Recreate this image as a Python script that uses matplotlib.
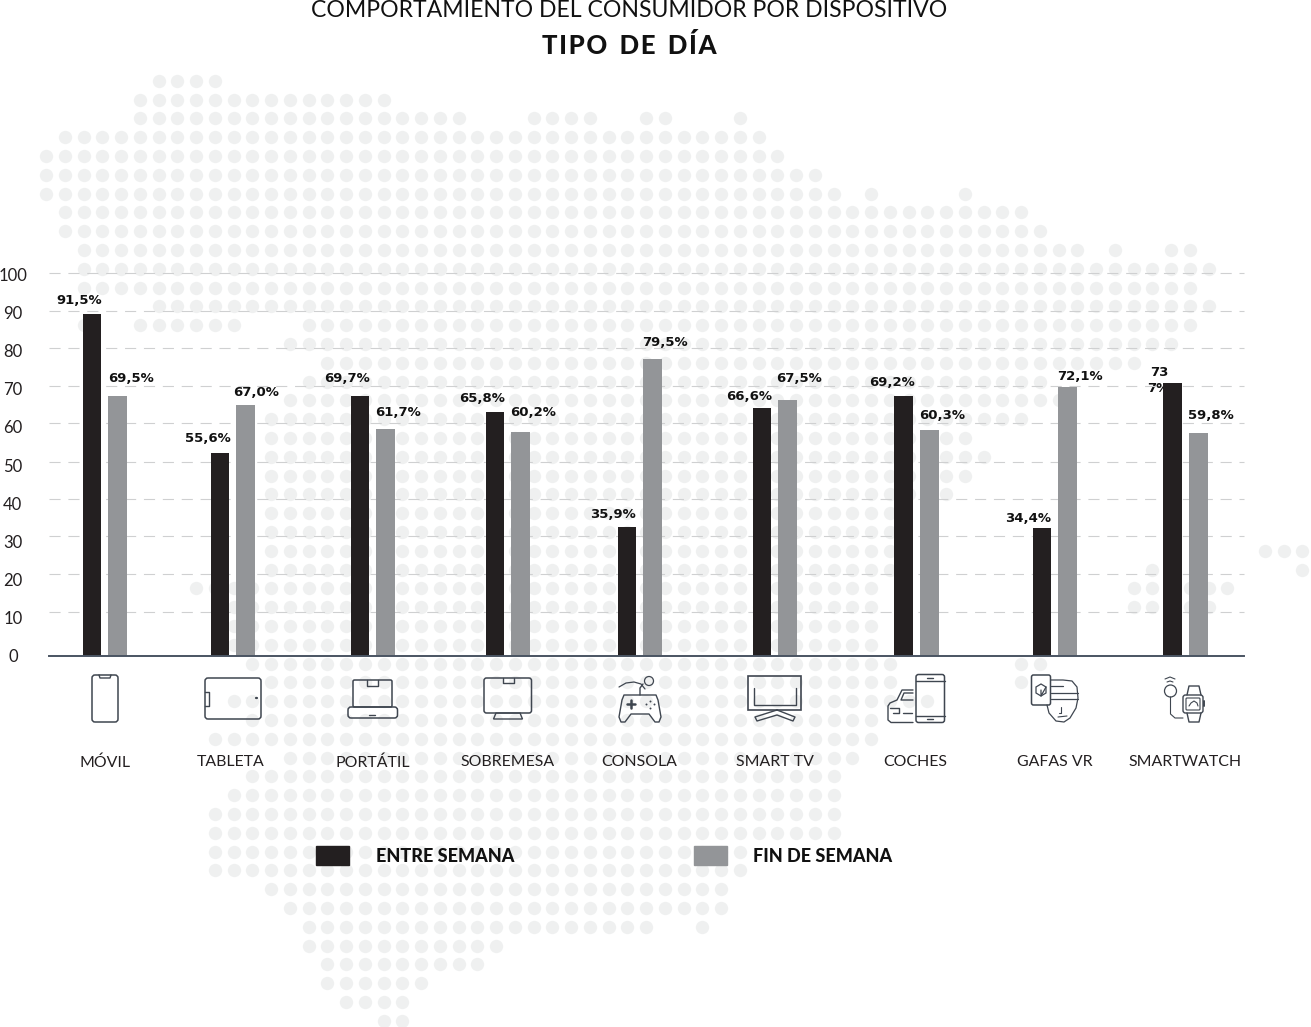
import numpy as np
import matplotlib
matplotlib.use('Agg')
import matplotlib.pyplot as plt
from matplotlib.patches import FancyBboxPatch, Rectangle, Circle, Polygon

plt.rcParams['font.family'] = ['Lato', 'DejaVu Sans']

W, H = 1311, 1027

# datos
categorias = ['MÓVIL', 'TABLETA', 'PORTÁTIL', 'SOBREMESA', 'CONSOLA', 'SMART TV', 'COCHES', 'GAFAS VR', 'SMARTWATCH']
# altura de las barras tal como estan dibujadas (no coincide del todo con la etiqueta)
entre_semana = [89.4, 53.1, 68.1, 63.9, 33.8, 65.0, 68.1, 33.6, 71.4]
fin_de_semana = [68.1, 65.7, 59.4, 58.6, 77.7, 67.1, 59.2, 70.3, 58.3]
etiquetas_entre = ['91,5%', '55,6%', '69,7%', '65,8%', '35,9%', '66,6%', '69,2%', '34,4%']
etiquetas_fin = ['69,5%', '67,0%', '61,7%', '60,2%', '79,5%', '67,5%', '60,3%', '72,1%', '59,8%']
ticks_y = [0, 10, 20, 30, 40, 50, 60, 70, 80, 90, 100]
# las lineas de la rejilla del original no caen justo en los ticks
niveles_rejilla = [11.5, 21.4, 31.3, 41.1, 50.9, 60.9, 70.7, 80.5, 90.4, 100.3]

# posiciones en pixeles
x_entre = [92, 220, 360, 495, 627, 762, 903.5, 1042, 1172.5]
x_fin = [117.5, 245.5, 385.5, 520.5, 652.5, 787.5, 929.5, 1067.5, 1198.5]
x_categorias = [105, 230.5, 372.5, 508, 639.5, 775, 915.5, 1055, 1185.5]
pos_etq_entre = [(79, 300), (208, 438), (347, 379), (482, 399), (613, 514), (749, 397), (892, 383), (1028, 518)]
pos_etq_fin = [(131, 378), (256, 392), (398, 413), (533, 413), (665, 343), (799, 379), (942, 416), (1080, 376), (1211, 416)]

# mapa de puntos de fondo: fila -> tramos de columnas
mapa = {
    0: [(6, 9)], 1: [(5, 18)], 2: [(5, 22), (26, 29), (32, 33), (37, 37)], 3: [(1, 38)],
    4: [(0, 39)], 5: [(0, 41)], 6: [(0, 42), (44, 44), (49, 49)], 7: [(1, 52)], 8: [(1, 53)],
    9: [(2, 55), (57, 57), (60, 61)], 10: [(2, 62)], 11: [(2, 61)], 12: [(6, 62)],
    13: [(2, 2), (5, 10), (14, 61)], 14: [(13, 60)], 15: [(15, 58)], 16: [(14, 53)], 17: [(13, 54)],
    18: [(12, 52)], 19: [(12, 49)], 20: [(12, 50)], 21: [(12, 49)], 22: [(12, 48)], 23: [(12, 45)],
    24: [(12, 45)], 25: [(12, 45), (65, 67)], 26: [(12, 45), (59, 59), (67, 67)],
    27: [(8, 44), (58, 63)], 28: [(10, 44), (58, 62)], 29: [(10, 44)], 30: [(10, 44)],
    31: [(11, 45), (52, 53)], 32: [(12, 45), (52, 52)], 33: [(10, 47)], 34: [(11, 44)], 35: [(9, 44)],
    36: [(13, 43)], 37: [(11, 42)], 38: [(10, 42)], 39: [(9, 42)], 40: [(9, 42)], 41: [(9, 37)],
    42: [(9, 37)], 43: [(12, 36)], 44: [(13, 36)], 45: [(14, 32), (35, 35)], 46: [(14, 24)],
    47: [(15, 23)], 48: [(15, 20)], 49: [(16, 19)], 50: [(18, 19)],
}

COLOR_OSCURO = '#231f20'
COLOR_GRIS = '#939598'
COLOR_PUNTO = '#eff0f0'
COLOR_ICONO = '#3f4650'

fig = plt.figure(figsize=(W / 100, H / 100), dpi=100, facecolor='white')

# capa de fondo en coordenadas de pixel (mapa e iconos)
fondo = fig.add_axes([0, 0, 1, 1], zorder=0)
fondo.set_xlim(0, W)
fondo.set_ylim(H, 0)
fondo.axis('off')

px, py = [], []
for fila, tramos in mapa.items():
    for c0, c1 in tramos:
        for c in range(c0, c1 + 1):
            px.append(46 + 18.75 * c)
            py.append(80.7 + 18.8 * fila)
fondo.scatter(px, py, s=92, color=COLOR_PUNTO, linewidths=0)

# grafico principal
ax = fig.add_axes([49 / W, (H - 656) / H, (1244 - 49) / W, (656 - 274) / H], zorder=1)
ax.patch.set_alpha(0)
ax.set_xlim(49, 1244)
ax.set_ylim(0, 100)

ax.hlines(niveles_rejilla, 49, 1244, color='#cfd0d1', lw=0.8, linestyles=(0, (10, 7)), zorder=1, clip_on=False)
ax.bar(x_entre, entre_semana, width=18.5, color=COLOR_OSCURO, zorder=2)
ax.bar(x_fin, fin_de_semana, width=18.5, color=COLOR_GRIS, zorder=2)

for lado in ['top', 'right', 'left']:
    ax.spines[lado].set_visible(False)
ax.spines['bottom'].set_color('#4a5462')
ax.spines['bottom'].set_linewidth(1.4)

ax.set_yticks(ticks_y)
ax.set_yticklabels([str(t) for t in ticks_y], ha='center', fontsize=12, color='#231f20')
ax.tick_params(axis='y', length=0, pad=26)
ax.set_xticks(x_categorias)
ax.set_xticklabels(categorias, fontsize=11.4, color='#231f20')
ax.tick_params(axis='x', length=0, pad=71.5)

ESTILO_ETQ = dict(fontsize=9.5, fontweight='bold', family='DejaVu Sans', color='#111111')


def texto_px(x, y, s, **kw):
    fig.text(x / W, 1 - y / H, s, ha='center', va='center', **kw)


for (x, y), s in zip(pos_etq_entre, etiquetas_entre):
    texto_px(x, y, s, **ESTILO_ETQ)
for (x, y), s in zip(pos_etq_fin, etiquetas_fin):
    texto_px(x, y, s, **ESTILO_ETQ)
# la etiqueta de smartwatch esta partida y se mete detras de la barra
fondo.text(1159, 373, '73', ha='center', va='center', **ESTILO_ETQ)
fondo.text(1158, 389, '7%', ha='center', va='center', **ESTILO_ETQ)

# titulos
texto_px(629.5, 10.5, 'COMPORTAMIENTO DEL CONSUMIDOR POR DISPOSITIVO', fontsize=16.6, color='#111111')
texto_px(629, 45, 'T\u200aI\u200aP\u200aO  D\u200aE  D\u200aÍ\u200aA', fontsize=18.5, fontweight='black', color='#111111')

# leyenda
fondo.add_patch(Rectangle((315.5, 846), 33, 19, color=COLOR_OSCURO))
fondo.add_patch(Rectangle((694, 846), 33, 19, color=COLOR_GRIS))
fig.text(376 / W, 1 - 857 / H, 'ENTRE SEMANA', ha='left', va='center', fontsize=13, fontweight='black', color='#111111')
fig.text(753 / W, 1 - 857 / H, 'FIN DE SEMANA', ha='left', va='center', fontsize=13, fontweight='black', color='#111111')


# iconos dibujados a mano
def caja(x0, y0, x1, y1, r=2, lw=1.1):
    fondo.add_patch(FancyBboxPatch((x0 + r, y0 + r), x1 - x0 - 2 * r, y1 - y0 - 2 * r,
                                   boxstyle=f'round,pad={r},rounding_size={r}',
                                   fc='none', ec=COLOR_ICONO, lw=lw))


def linea(xs, ys, lw=1.0):
    fondo.plot(xs, ys, color=COLOR_ICONO, lw=lw, solid_capstyle='round')


# movil
caja(92, 675, 118, 722, 3)
linea([99, 100, 110, 111], [675, 678, 678, 675])
linea([104.6, 105.2], [717, 717], 1.6)
# tableta
caja(205, 678, 261, 719, 3)
linea([205, 209, 209, 205], [692, 692, 706, 706])
linea([256, 256.6], [698, 698], 1.6)
# portatil
caja(353, 680, 392, 707, 1.5)
caja(348, 707, 397.5, 718, 3)
linea([367, 367, 378, 378], [680, 686, 686, 680])
linea([369, 375], [715, 715])
# sobremesa
caja(484, 678, 531.5, 713, 2.5)
fondo.add_patch(Polygon([(496, 713), (520, 713), (522.5, 719), (493.5, 719)], fc='none', ec=COLOR_ICONO, lw=1.0))
linea([503, 503, 513.5, 513.5], [678, 683, 683, 678])
# consola
cuerpo = [(624, 695), (656, 695), (658, 700), (661, 717), (659, 722), (655, 722), (649, 714), (631, 714), (625, 722), (621, 722), (619, 717), (622, 700)]
fondo.add_patch(Polygon(cuerpo, fc='none', ec=COLOR_ICONO, lw=1.0, joinstyle='round'))
linea([640, 640, 643], [695, 688, 684])
linea([619, 626, 634, 641, 645], [687, 683, 682, 684, 689], 0.9)
fondo.add_patch(Circle((649, 681), 4.5, fc='none', ec=COLOR_ICONO, lw=0.9))
linea([627, 635], [704, 704], 1.8)
linea([631, 631], [700, 708], 1.8)
fondo.scatter([646, 654, 650, 650], [704, 704, 700.5, 707.5], s=2, color=COLOR_ICONO, linewidths=0)
# smart tv
fondo.add_patch(Rectangle((747.5, 676), 53.5, 34, fc='none', ec=COLOR_ICONO, lw=1.2))
linea([754, 754, 796, 796], [688, 705, 705, 688])
linea([777, 755, 757, 777, 793, 795, 777], [710, 717, 721, 715, 721, 717, 710])
# coches
caja(916, 674.5, 944.5, 722.5, 2.5)
linea([916, 944.5], [681, 681])
linea([916, 944.5], [716, 716])
linea([927, 933], [719, 719])
linea([927, 933], [677.5, 677.5])
linea([913, 902, 897, 890, 888, 888, 891, 913], [690, 690, 700, 703, 706, 720, 722.5, 722.5])
linea([913, 904, 901, 913], [693, 693, 700, 700])
linea([890, 899, 899, 893], [708, 708, 713, 713])
linea([903, 912], [713, 713])
# gafas vr
caja(1031.5, 675, 1050.5, 705, 2)
fondo.add_patch(Polygon([(1041, 684), (1046, 687), (1046, 693), (1041, 696), (1036, 693), (1036, 687)], fc='none', ec=COLOR_ICONO, lw=0.9))
linea([1041, 1041, 1046], [690, 696, 687], 0.9)
linea([1051, 1063, 1072, 1077, 1078, 1076, 1070, 1064, 1056, 1049, 1047], [680, 680, 681, 687, 698, 708, 718, 722, 721, 713, 705], 0.9)
linea([1051, 1078], [693, 693], 0.9)
linea([1051, 1078], [699, 699], 0.9)
linea([1051, 1063], [686, 686], 0.9)
linea([1061, 1061, 1059], [707, 713, 713], 0.8)
linea([1058, 1067], [717, 716], 0.8)
# smartwatch
fondo.add_patch(Circle((1170.5, 691), 6, fc='none', ec=COLOR_ICONO, lw=0.9))
linea([1165, 1170, 1175], [679, 677, 679], 0.8)
linea([1167, 1170, 1173], [682, 681, 682], 0.8)
linea([1170.5, 1170.5, 1175, 1183], [697, 714, 718, 718], 0.8)
caja(1183, 695, 1203, 713, 2.5, 1.0)
caja(1186, 698, 1200, 710, 1, 0.8)
linea([1187, 1189, 1199, 1201], [695, 686, 686, 695])
linea([1187, 1189, 1199, 1201], [713, 722, 722, 713])
linea([1204, 1204], [701, 706], 1.4)
linea([1189, 1191, 1194, 1197, 1198], [706, 703, 701, 703, 706], 0.8)

fig.savefig('out.png', dpi=100)
